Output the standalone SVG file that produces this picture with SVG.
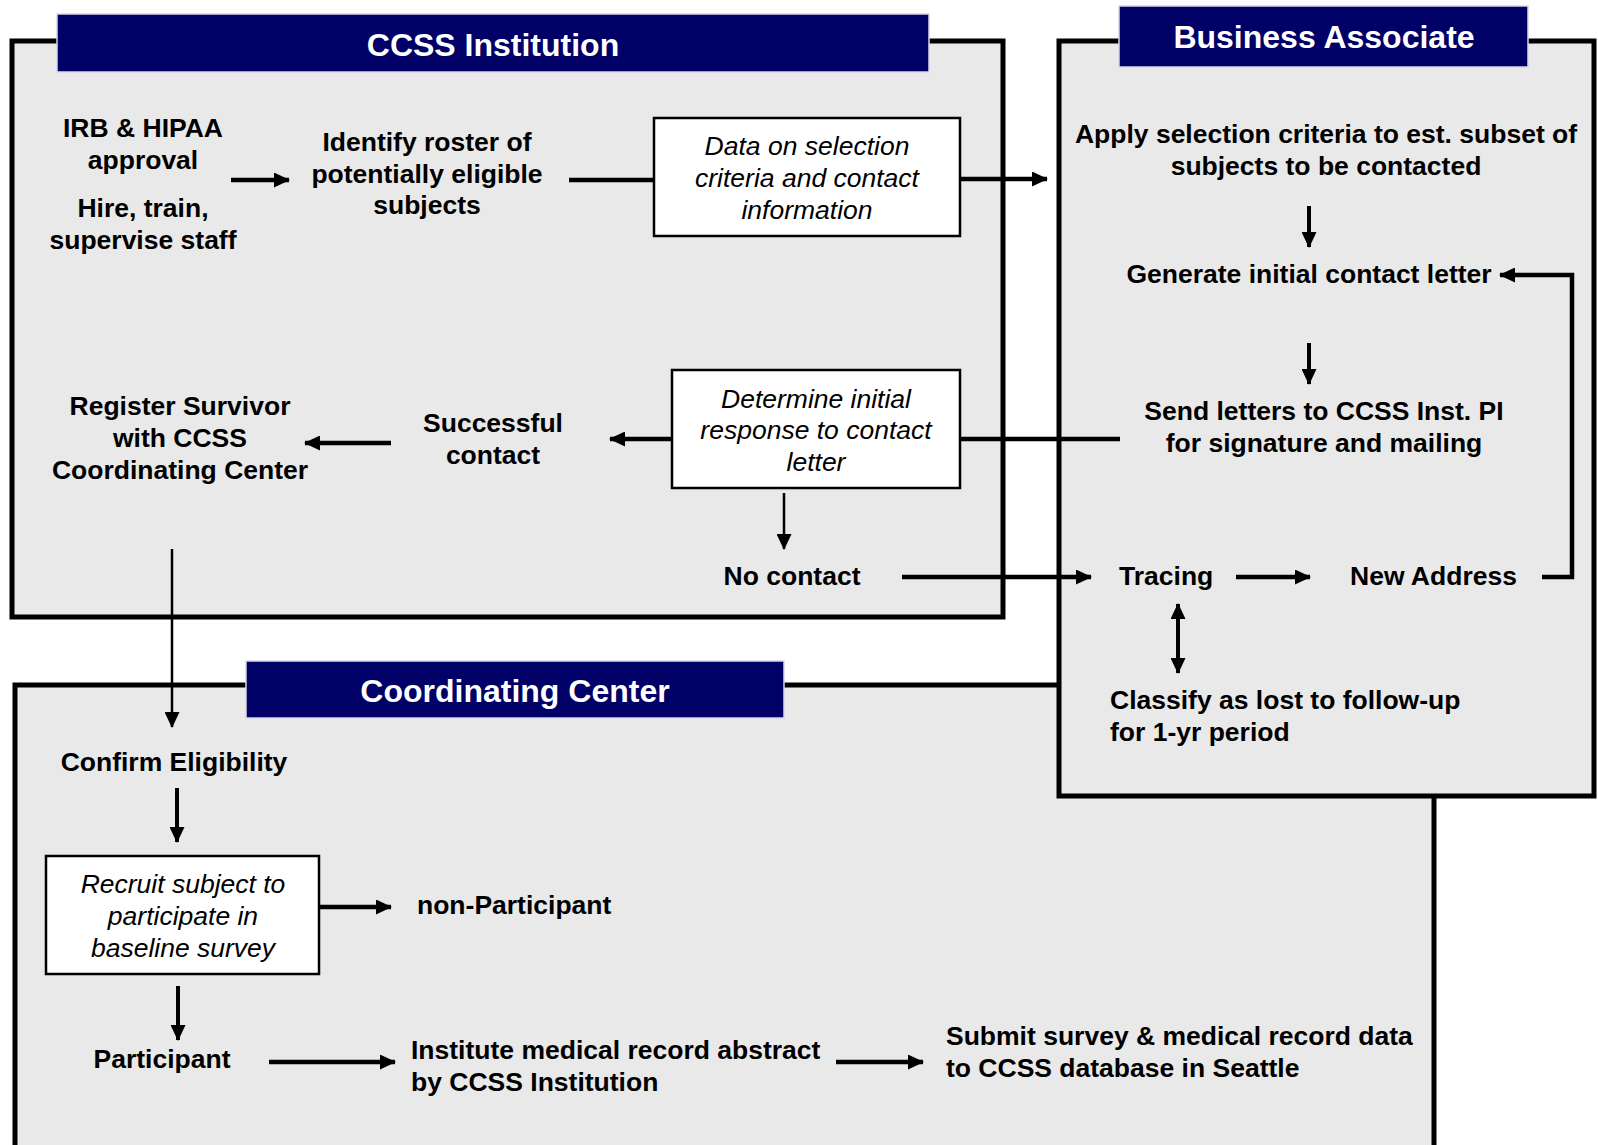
<svg xmlns="http://www.w3.org/2000/svg" width="1598" height="1145" viewBox="0 0 1598 1145">
<defs>
<style>
.panel{fill:#e9e9e9;stroke:#000;stroke-width:5}
.hdr{fill:#000066;stroke:#d8d8e8;stroke-width:1.5}
.hdrt{font-family:"Liberation Sans",Arial,sans-serif;font-weight:bold;font-size:32px;fill:#fff;text-anchor:middle}
.t{font-family:"Liberation Sans",Arial,sans-serif;font-weight:bold;font-size:26.5px;fill:#000}
.c{text-anchor:middle}
.it{font-family:"Liberation Sans",Arial,sans-serif;font-style:italic;font-size:26.5px;fill:#000;text-anchor:middle}
.box{fill:#fff;stroke:#000;stroke-width:2.5}
.thick{fill:none;stroke:#000;stroke-width:4.5}
.mid{fill:none;stroke:#000;stroke-width:4}
.thin{fill:none;stroke:#000;stroke-width:2.5}
</style>
<marker id="ah" viewBox="0 0 16 15" refX="15" refY="7.5" markerWidth="16" markerHeight="15" markerUnits="userSpaceOnUse" orient="auto-start-reverse">
<path d="M0,0 L16,7.5 L0,15 z" fill="#000"/>
</marker>
</defs>
<rect width="1598" height="1145" fill="#fff"/>

<g id="panel-coordinating-center">
<rect class="panel" x="15" y="685" width="1419" height="480"/>
</g>
<g id="panel-business-associate">
<rect class="panel" x="1059" y="41" width="535" height="755"/>
</g>
<g id="panel-ccss-institution">
<rect class="panel" x="12" y="41" width="991" height="576"/>
</g>

<g id="header-ccss">
<rect class="hdr" x="57" y="14" width="872" height="58"/>
<text class="hdrt" x="493" y="56">CCSS Institution</text>
</g>
<g id="header-ba">
<rect class="hdr" x="1119" y="6" width="409" height="61"/>
<text class="hdrt" x="1324" y="48">Business Associate</text>
</g>
<g id="header-cc">
<rect class="hdr" x="246" y="661" width="538" height="57"/>
<text class="hdrt" x="515" y="702">Coordinating Center</text>
</g>

<g id="connectors">
<line class="thick" x1="231" y1="180" x2="289" y2="180" marker-end="url(#ah)"/>
<line class="thick" x1="569" y1="180" x2="654" y2="180"/>
<line class="thick" x1="960" y1="179" x2="1047" y2="179" marker-end="url(#ah)"/>
<line class="mid" x1="1309" y1="206" x2="1309" y2="247" marker-end="url(#ah)"/>
<line class="mid" x1="1309" y1="343" x2="1309" y2="384" marker-end="url(#ah)"/>
<line class="thick" x1="1120" y1="439" x2="960" y2="439"/>
<line class="thick" x1="672" y1="439" x2="610" y2="439" marker-end="url(#ah)"/>
<line class="thick" x1="391" y1="443" x2="305" y2="443" marker-end="url(#ah)"/>
<line class="thin" x1="784" y1="493" x2="784" y2="549" marker-end="url(#ah)"/>
<line class="thick" x1="902" y1="577" x2="1091" y2="577" marker-end="url(#ah)"/>
<line class="thick" x1="1236" y1="577" x2="1310" y2="577" marker-end="url(#ah)"/>
<polyline class="thick" points="1542,577 1572,577 1572,275 1500,275" marker-end="url(#ah)"/>
<line class="mid" x1="1178" y1="604" x2="1178" y2="673" marker-start="url(#ah)" marker-end="url(#ah)"/>
<line class="thin" x1="172" y1="549" x2="172" y2="727" marker-end="url(#ah)"/>
<line class="mid" x1="177" y1="788" x2="177" y2="842" marker-end="url(#ah)"/>
<line class="thick" x1="319" y1="907" x2="391" y2="907" marker-end="url(#ah)"/>
<line class="mid" x1="178" y1="986" x2="178" y2="1040" marker-end="url(#ah)"/>
<line class="thick" x1="269" y1="1062" x2="395" y2="1062" marker-end="url(#ah)"/>
<line class="thick" x1="836" y1="1062" x2="923" y2="1062" marker-end="url(#ah)"/>
</g>

<g id="node-irb">
<text class="t c" x="143" y="137">IRB &amp; HIPAA</text>
<text class="t c" x="143" y="169">approval</text>
<text class="t c" x="143" y="217">Hire, train,</text>
<text class="t c" x="143" y="249">supervise staff</text>
</g>
<g id="node-identify">
<text class="t c" x="427" y="151">Identify roster of</text>
<text class="t c" x="427" y="183">potentially eligible</text>
<text class="t c" x="427" y="214">subjects</text>
</g>
<g id="node-data">
<rect class="box" x="654" y="118" width="306" height="118"/>
<text class="it" x="807" y="155">Data on selection</text>
<text class="it" x="807" y="187">criteria and contact</text>
<text class="it" x="807" y="219">information</text>
</g>
<g id="node-determine">
<rect class="box" x="672" y="370" width="288" height="118"/>
<text class="it" x="816" y="408">Determine initial</text>
<text class="it" x="816" y="439">response to contact</text>
<text class="it" x="816" y="471">letter</text>
</g>
<g id="node-successful">
<text class="t c" x="493" y="432">Successful</text>
<text class="t c" x="493" y="464">contact</text>
</g>
<g id="node-register">
<text class="t c" x="180" y="415">Register Survivor</text>
<text class="t c" x="180" y="447">with CCSS</text>
<text class="t c" x="180" y="479">Coordinating Center</text>
</g>
<g id="node-nocontact">
<text class="t c" x="792" y="585">No contact</text>
</g>
<g id="node-apply">
<text class="t c" x="1326" y="143">Apply selection criteria to est. subset of</text>
<text class="t c" x="1326" y="175">subjects to be contacted</text>
</g>
<g id="node-generate">
<text class="t c" x="1309" y="283">Generate initial contact letter</text>
</g>
<g id="node-send">
<text class="t c" x="1324" y="420">Send letters to CCSS Inst. PI</text>
<text class="t c" x="1324" y="452">for signature and mailing</text>
</g>
<g id="node-tracing">
<text class="t" x="1119" y="585">Tracing</text>
</g>
<g id="node-newaddress">
<text class="t" x="1350" y="585">New Address</text>
</g>
<g id="node-classify">
<text class="t" x="1110" y="709">Classify as lost to follow-up</text>
<text class="t" x="1110" y="741">for 1-yr period</text>
</g>
<g id="node-confirm">
<text class="t c" x="174" y="771">Confirm Eligibility</text>
</g>
<g id="node-recruit">
<rect class="box" x="46" y="856" width="273" height="118"/>
<text class="it" x="183" y="893">Recruit subject to</text>
<text class="it" x="183" y="925">participate in</text>
<text class="it" x="183" y="957">baseline survey</text>
</g>
<g id="node-nonparticipant">
<text class="t" x="417" y="914">non-Participant</text>
</g>
<g id="node-participant">
<text class="t c" x="162" y="1068">Participant</text>
</g>
<g id="node-institute">
<text class="t" x="411" y="1059">Institute medical record abstract</text>
<text class="t" x="411" y="1091">by CCSS Institution</text>
</g>
<g id="node-submit">
<text class="t" x="946" y="1045">Submit survey &amp; medical record data</text>
<text class="t" x="946" y="1077">to CCSS database in Seattle</text>
</g>
</svg>
